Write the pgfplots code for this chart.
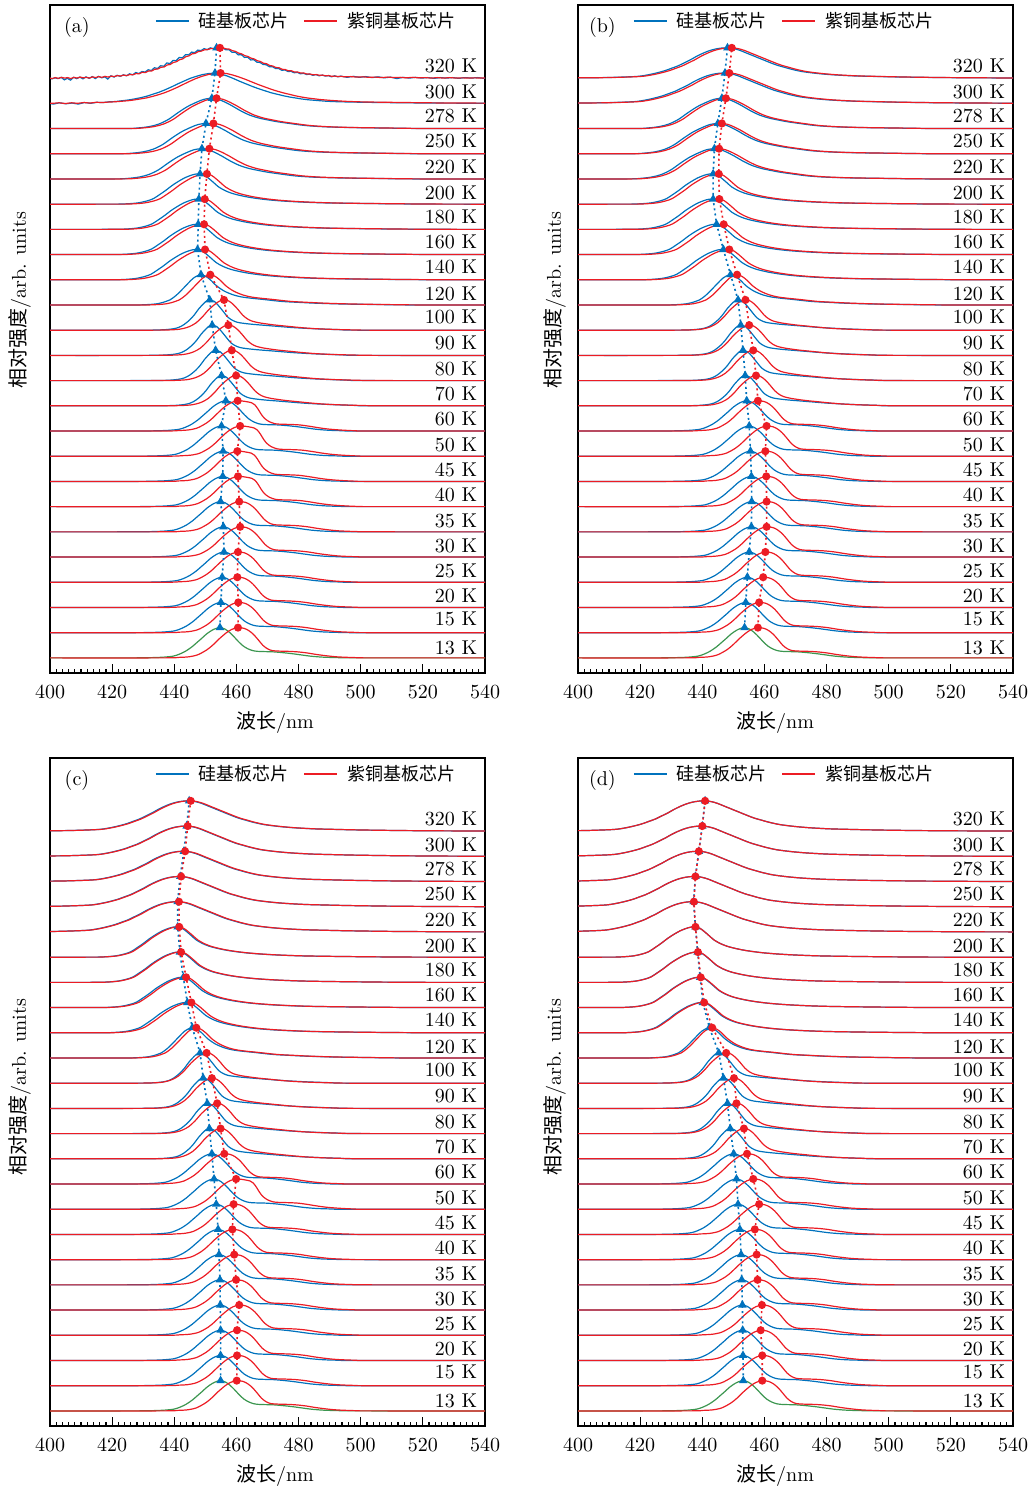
\documentclass[border=0pt]{standalone}
\usepackage{pgfplots}
\pgfplotsset{compat=1.18}
\usepackage{pgfplotstable}
\usepackage{fontspec}
\newfontfamily\cjk{Noto Sans CJK SC}
\definecolor{cb}{RGB}{0,114,189}
\definecolor{cr}{RGB}{236,28,36}
\definecolor{cg}{RGB}{60,150,80}

% peak-aligned line shapes (dx = nm from the peak, y in offset units)
\pgfplotstableread[row sep=\\]{dx y\\ -70 0\\ -30 0\\ -22 0.01\\ -18 0.03\\ -15 0.07\\ -13 0.15\\ -11 0.27\\ -9 0.44\\ -7.5 0.6\\ -6 0.76\\ -4.3 0.95\\ -2.5 1.1\\ -1 1.18\\ 0 1.2\\ 1.5 1.15\\ 3 1.02\\ 4.5 0.84\\ 6 0.64\\ 7.5 0.47\\ 9 0.36\\ 10.5 0.29\\ 12 0.26\\ 14 0.25\\ 17 0.24\\ 20 0.21\\ 23 0.17\\ 26 0.12\\ 29 0.07\\ 33 0.03\\ 38 0.01\\ 45 0\\ 110 0\\}\tL
\pgfplotstableread[row sep=\\]{dx y\\ -70 0\\ -25 0\\ -19 0.02\\ -16 0.04\\ -13 0.12\\ -10 0.32\\ -8 0.52\\ -6 0.76\\ -3.7 1.0\\ -2 1.13\\ 0 1.2\\ 2 1.17\\ 3.5 1.08\\ 5 0.93\\ 6.5 0.72\\ 8 0.5\\ 9.5 0.36\\ 11 0.29\\ 13 0.27\\ 16 0.26\\ 19 0.24\\ 22 0.2\\ 25 0.14\\ 28 0.09\\ 32 0.04\\ 38 0.01\\ 45 0\\ 110 0\\}\tLR
\pgfplotstableread[row sep=\\]{dx y\\ -70 0\\ -25 0\\ -19 0.02\\ -16 0.04\\ -13 0.12\\ -10 0.32\\ -8 0.52\\ -6 0.76\\ -4 0.98\\ -2 1.13\\ 0 1.2\\ 1.5 1.19\\ 3 1.16\\ 4.5 1.12\\ 5.5 1.04\\ 6.5 0.88\\ 7.5 0.68\\ 8.5 0.52\\ 10 0.38\\ 12 0.29\\ 14 0.27\\ 17 0.26\\ 20 0.24\\ 23 0.19\\ 26 0.13\\ 29 0.08\\ 33 0.04\\ 38 0.01\\ 45 0\\ 110 0\\}\tLRF
\pgfplotstableread[row sep=\\]{dx y\\ -70 0\\ -25 0\\ -16 0.01\\ -12 0.05\\ -10 0.11\\ -8.3 0.22\\ -6.5 0.4\\ -5 0.6\\ -3.5 0.85\\ -2 1.05\\ -1 1.16\\ 0 1.2\\ 1.5 1.14\\ 3 0.95\\ 4.5 0.72\\ 6 0.5\\ 7.5 0.38\\ 9 0.31\\ 11 0.27\\ 14 0.23\\ 18 0.19\\ 22 0.15\\ 26 0.11\\ 30 0.08\\ 35 0.05\\ 42 0.02\\ 50 0\\ 110 0\\}\tM
\pgfplotstableread[row sep=\\]{dx y\\ -70 0\\ -25 0\\ -16 0.02\\ -13 0.07\\ -11 0.15\\ -9 0.29\\ -7 0.52\\ -5 0.8\\ -3 1.02\\ -1.5 1.15\\ 0 1.2\\ 1.5 1.16\\ 3 1.02\\ 4.5 0.82\\ 6 0.6\\ 7.5 0.45\\ 9 0.36\\ 11 0.3\\ 13 0.26\\ 16 0.21\\ 20 0.16\\ 24 0.11\\ 28 0.07\\ 33 0.04\\ 40 0.015\\ 50 0\\ 110 0\\}\tMR
\pgfplotstableread[row sep=\\]{dx y\\ -70 0\\ -25 0\\ -18 0.01\\ -14 0.05\\ -11.5 0.13\\ -10 0.2\\ -8 0.38\\ -5.7 0.66\\ -4 0.88\\ -2.5 1.06\\ -1 1.17\\ 0 1.2\\ 1.5 1.14\\ 3 1.0\\ 5 0.76\\ 7.5 0.55\\ 10.4 0.4\\ 13 0.32\\ 16 0.27\\ 20 0.22\\ 26 0.14\\ 32 0.1\\ 37 0.07\\ 45 0.04\\ 55 0.02\\ 70 0\\ 110 0\\}\tH
\pgfplotstableread[row sep=\\]{dx y\\ -70 0\\ -30 0\\ -24 0.01\\ -20 0.05\\ -17 0.13\\ -15 0.22\\ -13 0.38\\ -11 0.55\\ -9 0.74\\ -7 0.9\\ -5 1.04\\ -3 1.14\\ -1.5 1.19\\ 0 1.2\\ 1.5 1.14\\ 3 1.0\\ 4.5 0.84\\ 6 0.68\\ 8 0.54\\ 10 0.44\\ 12 0.37\\ 15 0.29\\ 18 0.23\\ 22 0.17\\ 27 0.12\\ 33 0.08\\ 40 0.05\\ 50 0.03\\ 65 0.01\\ 80 0\\ 110 0\\}\tC
\pgfplotstableread[row sep=\\]{dx y\\ -70 0\\ -30 0\\ -24 0.02\\ -20 0.08\\ -17 0.18\\ -14 0.36\\ -11 0.62\\ -8 0.86\\ -5 1.04\\ -2.5 1.16\\ 0 1.2\\ 2 1.16\\ 4 1.06\\ 6.5 0.9\\ 9 0.72\\ 12 0.54\\ 15 0.42\\ 18 0.34\\ 21 0.27\\ 25 0.2\\ 30 0.12\\ 36 0.07\\ 44 0.04\\ 55 0.02\\ 70 0\\ 110 0\\}\tHH
\pgfplotstableread[row sep=\\]{dx y\\ -70 0\\ -50 0.01\\ -40 0.02\\ -34 0.04\\ -30 0.06\\ -28 0.08\\ -26 0.12\\ -24 0.17\\ -22 0.23\\ -20 0.3\\ -18 0.39\\ -16 0.48\\ -14 0.6\\ -12 0.72\\ -10 0.86\\ -8 0.98\\ -6 1.08\\ -4 1.15\\ -2 1.19\\ 0 1.2\\ 2 1.17\\ 4 1.1\\ 6 1.0\\ 8 0.9\\ 10 0.8\\ 12 0.7\\ 14 0.6\\ 16 0.51\\ 18 0.44\\ 20 0.37\\ 22 0.31\\ 24 0.26\\ 27 0.21\\ 30 0.17\\ 34 0.13\\ 40 0.09\\ 46 0.07\\ 55 0.045\\ 70 0.02\\ 90 0.005\\ 110 0\\}\tVH
% noisy spectra of panel (a), 320 K and 300 K
\pgfplotstableread[row sep=\\]{dx y\\ -60 0\\ -54 0.02\\ -53 -0.03\\ -52 0.01\\ -51 -0.02\\ -50 0.03\\ -49 -0.07\\ -48 -0.01\\ -47 -0.08\\ -46 0.03\\ -45 -0.02\\ -44 0.04\\ -43 -0.03\\ -42 0.05\\ -41 -0.01\\ -40 0.06\\ -39 -0.02\\ -38 0.07\\ -37 0.01\\ -36 0.05\\ -35 -0.04\\ -34 0.09\\ -33 0.04\\ -32 0.11\\ -31 0.07\\ -30 0.13\\ -29 0.09\\ -28 0.17\\ -27 0.13\\ -26 0.22\\ -25 0.18\\ -24 0.26\\ -23 0.24\\ -22 0.33\\ -21 0.3\\ -20 0.41\\ -19 0.38\\ -18 0.49\\ -17 0.47\\ -16 0.6\\ -15 0.58\\ -14 0.7\\ -13 0.69\\ -12 0.82\\ -11 0.8\\ -10 0.93\\ -9 0.92\\ -8 1.03\\ -7 1.01\\ -6 1.11\\ -5 1.09\\ -4 1.17\\ -3 1.13\\ -2 1.2\\ -1 1.17\\ 0 1.22\\ 1 1.16\\ 2 1.2\\ 3 1.12\\ 4 1.13\\ 5 1.02\\ 6 1.03\\ 7 0.92\\ 8 0.93\\ 9 0.82\\ 10 0.83\\ 11 0.72\\ 12 0.73\\ 13 0.63\\ 14 0.62\\ 15 0.54\\ 16 0.53\\ 17 0.45\\ 18 0.45\\ 19 0.38\\ 20 0.38\\ 21 0.31\\ 22 0.32\\ 23 0.26\\ 24 0.27\\ 25 0.21\\ 26 0.23\\ 27 0.17\\ 28 0.19\\ 29 0.14\\ 30 0.16\\ 31 0.11\\ 32 0.14\\ 33 0.09\\ 34 0.12\\ 35 0.08\\ 36 0.1\\ 37 0.05\\ 38 0.09\\ 39 0.05\\ 40 0.08\\ 42 0.03\\ 44 0.07\\ 46 0.03\\ 48 0.06\\ 50 0.02\\ 52 0.05\\ 54 0.01\\ 56 0.04\\ 58 -0.02\\ 60 0.03\\ 62 0.0\\ 64 0.03\\ 66 0.0\\ 68 0.02\\ 70 -0.01\\ 72 0.02\\ 74 0.0\\ 76 0.02\\ 78 -0.01\\ 80 0.02\\ 82 0.0\\ 84 0.02\\ 86 -0.01\\ 88 0.01\\ 92 0\\}\tNBa
\pgfplotstableread[row sep=\\]{dx y\\ -60 0\\ -55 0.01\\ -54 -0.02\\ -53 0.02\\ -52 -0.01\\ -51 0.03\\ -50 0.0\\ -49 0.02\\ -48 -0.02\\ -47 0.03\\ -46 0.0\\ -45 0.04\\ -44 0.01\\ -43 0.03\\ -42 0.0\\ -41 0.05\\ -40 0.02\\ -39 0.06\\ -38 0.03\\ -37 0.07\\ -36 0.04\\ -35 0.08\\ -34 0.06\\ -33 0.1\\ -32 0.08\\ -31 0.12\\ -30 0.1\\ -29 0.14\\ -28 0.13\\ -27 0.18\\ -26 0.17\\ -25 0.23\\ -24 0.22\\ -23 0.28\\ -22 0.28\\ -21 0.35\\ -20 0.36\\ -19 0.43\\ -18 0.44\\ -17 0.52\\ -16 0.54\\ -15 0.62\\ -14 0.65\\ -13 0.73\\ -12 0.76\\ -11 0.85\\ -10 0.88\\ -9 0.96\\ -8 0.98\\ -7 1.05\\ -6 1.07\\ -5 1.12\\ -4 1.13\\ -3 1.17\\ -2 1.17\\ -1 1.2\\ 0 1.2\\ 1 1.2\\ 2 1.16\\ 3 1.15\\ 4 1.09\\ 5 1.06\\ 6 0.99\\ 7 0.96\\ 8 0.89\\ 9 0.86\\ 10 0.79\\ 11 0.76\\ 12 0.69\\ 13 0.66\\ 14 0.59\\ 15 0.57\\ 16 0.5\\ 17 0.48\\ 18 0.42\\ 19 0.41\\ 20 0.35\\ 21 0.34\\ 22 0.29\\ 23 0.29\\ 24 0.24\\ 25 0.24\\ 26 0.2\\ 27 0.2\\ 28 0.16\\ 29 0.16\\ 30 0.13\\ 31 0.14\\ 32 0.11\\ 33 0.12\\ 34 0.09\\ 35 0.1\\ 36 0.07\\ 37 0.08\\ 38 0.06\\ 39 0.07\\ 40 0.05\\ 42 0.06\\ 44 0.04\\ 46 0.05\\ 48 0.03\\ 50 0.04\\ 52 0.02\\ 54 0.04\\ 56 0.02\\ 58 0.03\\ 60 0.01\\ 62 0.03\\ 64 0.01\\ 66 0.02\\ 68 0.0\\ 70 0.02\\ 72 0.0\\ 74 0.02\\ 76 0.0\\ 78 0.01\\ 80 0.0\\ 82 0.01\\ 84 0.0\\ 86 0.01\\ 88 0.0\\ 92 0\\}\tNRa
\pgfplotstableread[row sep=\\]{dx y\\ -60 0\\ -54 0.01\\ -52 -0.03\\ -50 0.02\\ -48 -0.02\\ -46 0.01\\ -44 -0.03\\ -42 0.03\\ -40 0.0\\ -38 0.04\\ -36 0.03\\ -34 0.06\\ -32 0.07\\ -30 0.1\\ -28 0.13\\ -26 0.17\\ -24 0.22\\ -22 0.28\\ -20 0.36\\ -18 0.44\\ -16 0.54\\ -14 0.65\\ -12 0.77\\ -10 0.88\\ -8 0.99\\ -6 1.07\\ -4 1.14\\ -2 1.18\\ 0 1.2\\ 2 1.16\\ 4 1.08\\ 6 0.98\\ 8 0.87\\ 10 0.77\\ 12 0.67\\ 14 0.58\\ 16 0.5\\ 18 0.42\\ 20 0.36\\ 22 0.3\\ 24 0.25\\ 26 0.21\\ 28 0.17\\ 30 0.14\\ 32 0.12\\ 34 0.1\\ 36 0.08\\ 40 0.06\\ 44 0.05\\ 48 0.04\\ 54 0.03\\ 60 0.02\\ 70 0.01\\ 80 0.005\\ 92 0\\}\tNBb
\pgfplotstableread[row sep=\\]{dx y\\ -60 0\\ -54 0.0\\ -52 0.02\\ -50 -0.01\\ -48 0.02\\ -46 0.0\\ -44 0.03\\ -42 0.01\\ -40 0.04\\ -38 0.03\\ -36 0.05\\ -34 0.06\\ -32 0.08\\ -30 0.1\\ -28 0.13\\ -26 0.17\\ -24 0.21\\ -22 0.27\\ -20 0.34\\ -18 0.42\\ -16 0.52\\ -14 0.63\\ -12 0.75\\ -10 0.87\\ -8 0.98\\ -6 1.07\\ -4 1.14\\ -2 1.18\\ 0 1.2\\ 2 1.18\\ 4 1.12\\ 6 1.04\\ 8 0.95\\ 10 0.85\\ 12 0.75\\ 14 0.66\\ 16 0.57\\ 18 0.49\\ 20 0.42\\ 22 0.36\\ 24 0.3\\ 26 0.25\\ 28 0.21\\ 30 0.18\\ 32 0.15\\ 34 0.13\\ 36 0.11\\ 40 0.08\\ 44 0.06\\ 48 0.05\\ 54 0.04\\ 60 0.03\\ 70 0.015\\ 80 0.01\\ 92 0\\}\tNRb

\tikzset{lab/.style={anchor=east, inner sep=0pt}}
\pgfplotsset{
  panel/.style={
    width=217.5pt, height=334pt, scale only axis,
    xmin=400, xmax=540, ymin=-0.6, ymax=25.9,
    xtick={400,420,...,540}, minor x tick num=9,
    xtick pos=left, ytick pos=both,
    ytick=\empty,
    minor ytick={0,1.18,2.36,3.54,4.72,5.90,7.08,8.26,9.44,10.62,11.80,12.98,14.16,15.34,16.52,17.70,18.88,20.06,21.24,22.42,23.60,24.78},
    tick align=inside,
    major tick length=4.5pt, minor tick length=2pt,
    every tick/.style={black, line width=0.6pt},
    axis line style={line width=0.8pt},
    xticklabel style={yshift=-3pt},
    xlabel={{\cjk 波长}/nm},
    ylabel={{\cjk 相对强度}/arb. units},
    legend style={draw=none, fill=none, font=\cjk\fontsize{9pt}{10pt}\selectfont,
      legend columns=2, anchor=west, inner sep=0pt,
      nodes={inner sep=0pt},
      /tikz/every odd column/.append style={column sep=4.5pt},
      /tikz/every even column/.append style={column sep=7.5pt}},
    legend image code/.code={\draw[#1, line width=0.7pt] (0pt,0pt) -- (16.5pt,0pt);},
    every axis plot/.append style={line width=0.6pt},
  },
  sb/.style={cb, smooth, tension=0.5, forget plot},
  sr/.style={cr, smooth, tension=0.5, forget plot},
  sg/.style={cg, smooth, tension=0.5, forget plot},
  nb/.style={cb, forget plot},
  nr/.style={cr, forget plot},
  mb/.style={cb, dash pattern=on 1pt off 1.6pt, line width=0.8pt, mark=triangle*,
    mark size=1.7pt, mark options={solid}, forget plot},
  mr/.style={cr, dash pattern=on 1pt off 1.6pt, line width=0.8pt, mark=*,
    mark size=1.6pt, mark options={solid}, forget plot},
}

\newcommand{\spc}[4]{\addplot[#1] table[x expr=\thisrow{dx}+#3, y expr=\thisrow{y}+#4]{#2};}
\newcommand{\pr}[5]{\spc{sb}{#3}{#1}{#5}\spc{sr}{#4}{#2}{#5}}
\newcommand{\tlabels}{%
  \node[lab] at (axis cs:537.6,0.40) {13 K};
  \node[lab] at (axis cs:537.6,1.55) {15 K};
  \node[lab] at (axis cs:537.6,2.47) {20 K};
  \node[lab] at (axis cs:537.6,3.45) {25 K};
  \node[lab] at (axis cs:537.6,4.43) {30 K};
  \node[lab] at (axis cs:537.6,5.45) {35 K};
  \node[lab] at (axis cs:537.6,6.47) {40 K};
  \node[lab] at (axis cs:537.6,7.47) {45 K};
  \node[lab] at (axis cs:537.6,8.46) {50 K};
  \node[lab] at (axis cs:537.6,9.48) {60 K};
  \node[lab] at (axis cs:537.6,10.48) {70 K};
  \node[lab] at (axis cs:537.6,11.47) {80 K};
  \node[lab] at (axis cs:537.6,12.5) {90 K};
  \node[lab] at (axis cs:537.6,13.52) {100 K};
  \node[lab] at (axis cs:537.6,14.45) {120 K};
  \node[lab] at (axis cs:537.6,15.5) {140 K};
  \node[lab] at (axis cs:537.6,16.5) {160 K};
  \node[lab] at (axis cs:537.6,17.5) {180 K};
  \node[lab] at (axis cs:537.6,18.46) {200 K};
  \node[lab] at (axis cs:537.6,19.48) {220 K};
  \node[lab] at (axis cs:537.6,20.5) {250 K};
  \node[lab] at (axis cs:537.6,21.5) {278 K};
  \node[lab] at (axis cs:537.6,22.46) {300 K};
  \node[lab] at (axis cs:537.6,23.48) {320 K};
}
\newcommand{\legendpair}{%
  \addlegendimage{cb}\addlegendentry{硅基板芯片}
  \addlegendimage{cr}\addlegendentry{紫铜基板芯片}
}

\begin{document}
\begin{tikzpicture}
\path[use as bounding box] (0,0) rectangle (517.5pt,-746pt);

% ---------------- (a)
\begin{axis}[panel, at={(25pt,-2.5pt)}, anchor=north west,
  xlabel style={at={(axis description cs:0.517,0)}, anchor=center, yshift=-25pt},
  ylabel style={at={(axis description cs:-0.069,0.558)}, anchor=center},
  legend style={at={(axis description cs:0.241,0.976)}}]
\legendpair
\spc{sg}{\tL}{454.7}{0}\spc{sr}{\tLR}{460.5}{0}
\pr{455.0}{460.6}{\tL}{\tLR}{1}
\pr{455.4}{460.3}{\tL}{\tLR}{2}
\pr{456.0}{460.5}{\tL}{\tLR}{3}
\pr{455.8}{461.2}{\tL}{\tLR}{4}
\pr{454.9}{460.9}{\tL}{\tLR}{5}
\pr{455.6}{460.5}{\tL}{\tLRF}{6}
\pr{455.7}{460.3}{\tL}{\tLRF}{7}
\pr{455.2}{461.2}{\tL}{\tLRF}{8}
\pr{456.6}{460.4}{\tL}{\tLRF}{9}
\pr{455.2}{459.9}{\tM}{\tMR}{10}
\pr{453.3}{458.5}{\tM}{\tMR}{11}
\pr{452.2}{457.4}{\tM}{\tMR}{12}
\pr{451.4}{456.0}{\tM}{\tMR}{13}
\pr{448.6}{451.6}{\tH}{\tH}{14}
\pr{447.5}{449.9}{\tC}{\tC}{15}
\pr{447.7}{449.6}{\tC}{\tC}{16}
\pr{447.9}{449.8}{\tC}{\tC}{17}
\pr{448.3}{450.5}{\tC}{\tC}{18}
\pr{448.9}{451.3}{\tHH}{\tHH}{19}
\pr{450.2}{452.6}{\tHH}{\tHH}{20}
\pr{452.1}{453.6}{\tHH}{\tHH}{21}
\spc{nb}{\tNBb}{453.1}{22}\spc{nr}{\tNRb}{454.9}{22}
\spc{nb}{\tNBa}{453.6}{23}\spc{nr}{\tNRa}{454.7}{23}
\addplot[mb] coordinates {(454.7,1.2)(455.0,2.2)(455.4,3.2)(456.0,4.2)(455.8,5.2)(454.9,6.2)(455.6,7.2)(455.7,8.2)(455.2,9.2)(456.6,10.2)(455.2,11.2)(453.3,12.2)(452.2,13.2)(451.4,14.2)(448.6,15.2)(447.5,16.2)(447.7,17.2)(447.9,18.2)(448.3,19.2)(448.9,20.2)(450.2,21.2)(452.1,22.2)(453.1,23.2)(453.6,24.2)};
\addplot[mr] coordinates {(460.5,1.2)(460.6,2.2)(460.3,3.2)(460.5,4.2)(461.2,5.2)(460.9,6.2)(460.5,7.2)(460.3,8.2)(461.2,9.2)(460.4,10.2)(459.9,11.2)(458.5,12.2)(457.4,13.2)(456.0,14.2)(451.6,15.2)(449.9,16.2)(449.6,17.2)(449.8,18.2)(450.5,19.2)(451.3,20.2)(452.6,21.2)(453.6,22.2)(454.9,23.2)(454.7,24.2)};
\tlabels
\node at (rel axis cs:0.062,0.966) {(a)};
\end{axis}

% ---------------- (b)
\begin{axis}[panel, at={(289pt,-2.5pt)}, anchor=north west,
  xlabel style={at={(axis description cs:0.453,0)}, anchor=center, yshift=-25pt},
  ylabel style={at={(axis description cs:-0.053,0.558)}, anchor=center},
  legend style={at={(axis description cs:0.126,0.976)}}]
\legendpair
\spc{sg}{\tL}{453.6}{0}\spc{sr}{\tLR}{457.9}{0}
\pr{454.0}{458.3}{\tL}{\tLR}{1}
\pr{454.5}{459.6}{\tL}{\tLR}{2}
\pr{455.1}{460.3}{\tL}{\tLR}{3}
\pr{455.8}{460.7}{\tL}{\tLR}{4}
\pr{455.9}{460.7}{\tL}{\tLR}{5}
\pr{455.8}{460.6}{\tL}{\tLR}{6}
\pr{455.5}{460.3}{\tL}{\tLR}{7}
\pr{455.1}{460.7}{\tL}{\tLR}{8}
\pr{454.3}{457.9}{\tL}{\tLR}{9}
\pr{453.8}{457.3}{\tM}{\tMR}{10}
\pr{453.1}{456.4}{\tM}{\tMR}{11}
\pr{452.4}{455.1}{\tM}{\tMR}{12}
\pr{451.5}{453.9}{\tM}{\tMR}{13}
\pr{449.1}{451.2}{\tH}{\tH}{14}
\pr{446.8}{448.7}{\tC}{\tC}{15}
\pr{444.6}{446.9}{\tC}{\tC}{16}
\pr{443.5}{445.5}{\tC}{\tC}{17}
\pr{443.5}{445.3}{\tC}{\tC}{18}
\pr{443.9}{445.4}{\tHH}{\tHH}{19}
\pr{445.0}{446.3}{\tHH}{\tHH}{20}
\pr{446.3}{447.6}{\tHH}{\tHH}{21}
\pr{447.3}{448.7}{\tVH}{\tVH}{22}
\pr{448.1}{449.5}{\tVH}{\tVH}{23}
\addplot[mb] coordinates {(453.6,1.2)(454.0,2.2)(454.5,3.2)(455.1,4.2)(455.8,5.2)(455.9,6.2)(455.8,7.2)(455.5,8.2)(455.1,9.2)(454.3,10.2)(453.8,11.2)(453.1,12.2)(452.4,13.2)(451.5,14.2)(449.1,15.2)(446.8,16.2)(444.6,17.2)(443.5,18.2)(443.5,19.2)(443.9,20.2)(445.0,21.2)(446.3,22.2)(447.3,23.2)(448.1,24.2)};
\addplot[mr] coordinates {(457.9,1.2)(458.3,2.2)(459.6,3.2)(460.3,4.2)(460.7,5.2)(460.7,6.2)(460.6,7.2)(460.3,8.2)(460.7,9.2)(457.9,10.2)(457.3,11.2)(456.4,12.2)(455.1,13.2)(453.9,14.2)(451.2,15.2)(448.7,16.2)(446.9,17.2)(445.5,18.2)(445.3,19.2)(445.4,20.2)(446.3,21.2)(447.6,22.2)(448.7,23.2)(449.5,24.2)};
\tlabels
\node at (rel axis cs:0.056,0.966) {(b)};
\end{axis}

% ---------------- (c)
\begin{axis}[panel, at={(25pt,-379pt)}, anchor=north west,
  xlabel style={at={(axis description cs:0.517,0)}, anchor=center, yshift=-25pt},
  ylabel style={at={(axis description cs:-0.069,0.507)}, anchor=center},
  legend style={at={(axis description cs:0.241,0.976)}}]
\legendpair
\spc{sg}{\tL}{454.9}{0}\spc{sr}{\tLR}{460.1}{0}
\pr{454.9}{460.2}{\tL}{\tLR}{1}
\pr{454.9}{460.2}{\tL}{\tLR}{2}
\pr{454.8}{460.9}{\tL}{\tLR}{3}
\pr{454.7}{459.9}{\tL}{\tLR}{4}
\pr{454.4}{459.3}{\tL}{\tLR}{5}
\pr{454.1}{458.7}{\tL}{\tLR}{6}
\pr{453.5}{459.1}{\tL}{\tLR}{7}
\pr{452.8}{459.9}{\tL}{\tLRF}{8}
\pr{452.1}{456.1}{\tL}{\tLR}{9}
\pr{451.3}{454.9}{\tM}{\tMR}{10}
\pr{450.6}{453.8}{\tM}{\tMR}{11}
\pr{449.3}{452.1}{\tM}{\tMR}{12}
\pr{448.3}{450.4}{\tM}{\tMR}{13}
\pr{445.8}{447.1}{\tH}{\tH}{14}
\pr{444.2}{445.5}{\tC}{\tC}{15}
\pr{442.9}{443.8}{\tC}{\tC}{16}
\pr{441.8}{442.2}{\tC}{\tC}{17}
\pr{441.1}{441.6}{\tC}{\tC}{18}
\pr{441.1}{441.5}{\tVH}{\tVH}{19}
\pr{441.9}{442.2}{\tVH}{\tVH}{20}
\pr{443.1}{443.5}{\tVH}{\tVH}{21}
\pr{444.0}{444.3}{\tVH}{\tVH}{22}
\pr{444.8}{445.3}{\tVH}{\tVH}{23}
\addplot[mb] coordinates {(454.9,1.2)(454.9,2.2)(454.9,3.2)(454.8,4.2)(454.7,5.2)(454.4,6.2)(454.1,7.2)(453.5,8.2)(452.8,9.2)(452.1,10.2)(451.3,11.2)(450.6,12.2)(449.3,13.2)(448.3,14.2)(445.8,15.2)(444.2,16.2)(442.9,17.2)(441.8,18.2)(441.1,19.2)(441.1,20.2)(441.9,21.2)(443.1,22.2)(444.0,23.2)(444.8,24.2)};
\addplot[mr] coordinates {(460.1,1.2)(460.2,2.2)(460.2,3.2)(460.9,4.2)(459.9,5.2)(459.3,6.2)(458.7,7.2)(459.1,8.2)(459.9,9.2)(456.1,10.2)(454.9,11.2)(453.8,12.2)(452.1,13.2)(450.4,14.2)(447.1,15.2)(445.5,16.2)(443.8,17.2)(442.2,18.2)(441.6,19.2)(441.5,20.2)(442.2,21.2)(443.5,22.2)(444.3,23.2)(445.3,24.2)};
\tlabels
\node at (rel axis cs:0.062,0.966) {(c)};
\end{axis}

% ---------------- (d)
\begin{axis}[panel, at={(289pt,-379pt)}, anchor=north west,
  xlabel style={at={(axis description cs:0.453,0)}, anchor=center, yshift=-25pt},
  ylabel style={at={(axis description cs:-0.053,0.507)}, anchor=center},
  legend style={at={(axis description cs:0.126,0.976)}}]
\legendpair
\spc{sg}{\tL}{453.2}{0}\spc{sr}{\tLR}{459.3}{0}
\pr{453.1}{459.3}{\tL}{\tLR}{1}
\pr{453.0}{458.8}{\tL}{\tLR}{2}
\pr{452.9}{459.2}{\tL}{\tLR}{3}
\pr{452.7}{457.8}{\tL}{\tLR}{4}
\pr{452.5}{457.5}{\tL}{\tLR}{5}
\pr{452.1}{456.9}{\tL}{\tLR}{6}
\pr{451.5}{458.3}{\tL}{\tLR}{7}
\pr{451.0}{456.4}{\tL}{\tLR}{8}
\pr{450.1}{454.4}{\tL}{\tLR}{9}
\pr{449.0}{453.4}{\tM}{\tMR}{10}
\pr{448.1}{451.0}{\tM}{\tMR}{11}
\pr{446.8}{450.2}{\tM}{\tMR}{12}
\pr{445.3}{447.7}{\tM}{\tMR}{13}
\pr{442.3}{443.2}{\tH}{\tH}{14}
\pr{440.2}{440.6}{\tC}{\tC}{15}
\pr{439.3}{439.5}{\tC}{\tC}{16}
\pr{438.5}{438.6}{\tC}{\tC}{17}
\pr{437.8}{437.8}{\tC}{\tC}{18}
\pr{437.2}{437.3}{\tVH}{\tVH}{19}
\pr{437.8}{437.8}{\tVH}{\tVH}{20}
\pr{438.9}{438.9}{\tVH}{\tVH}{21}
\pr{440.0}{440.0}{\tVH}{\tVH}{22}
\pr{440.9}{440.9}{\tVH}{\tVH}{23}
\addplot[mb] coordinates {(453.2,1.2)(453.1,2.2)(453.0,3.2)(452.9,4.2)(452.7,5.2)(452.5,6.2)(452.1,7.2)(451.5,8.2)(451.0,9.2)(450.1,10.2)(449.0,11.2)(448.1,12.2)(446.8,13.2)(445.3,14.2)(442.3,15.2)(440.2,16.2)(439.3,17.2)(438.5,18.2)(437.8,19.2)(437.2,20.2)(437.8,21.2)(438.9,22.2)(440.0,23.2)(440.9,24.2)};
\addplot[mr] coordinates {(459.3,1.2)(459.3,2.2)(458.8,3.2)(459.2,4.2)(457.8,5.2)(457.5,6.2)(456.9,7.2)(458.3,8.2)(456.4,9.2)(454.4,10.2)(453.4,11.2)(451.0,12.2)(450.2,13.2)(447.7,14.2)(443.2,15.2)(440.6,16.2)(439.5,17.2)(438.6,18.2)(437.8,19.2)(437.3,20.2)(437.8,21.2)(438.9,22.2)(440.0,23.2)(440.9,24.2)};
\tlabels
\node at (rel axis cs:0.056,0.966) {(d)};
\end{axis}
\end{tikzpicture}
\end{document}
